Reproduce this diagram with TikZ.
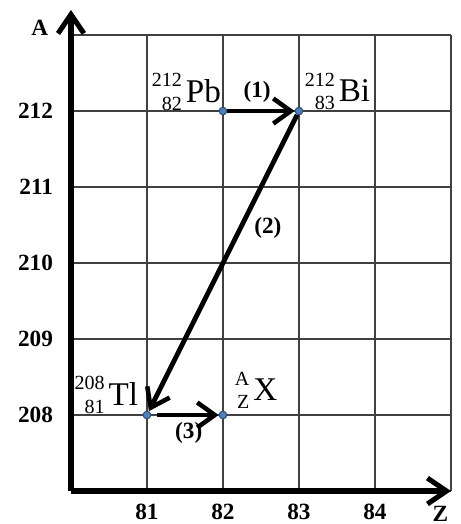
\documentclass[tikz,border=0pt]{standalone}
\usepackage{mathtools}
\usepackage{fontspec}
\setmainfont{Liberation Serif}
\usepackage{tikz}
\usetikzlibrary{arrows.meta}
\DeclareMathSizes{12.4}{12.4}{7.5}{5.5}
\definecolor{dotblue}{HTML}{4F81BD}
\definecolor{dotedge}{HTML}{2F4F7A}
\tikzset{
  gridline/.style={draw=black!75, line width=0.5pt},
  axisarrow/.style={-{Straight Barb[length=2.5mm, width=3.4mm, line width=1.9pt]}, line width=2.2pt},
  decayarrow/.style={-{Straight Barb[length=2.3mm, width=3.3mm, line width=1.7pt]}, line width=1.8pt},
  nucdot/.style={circle, fill=dotblue, draw=dotedge, line width=0.4pt, inner sep=0pt, minimum size=1mm},
  ticklabel/.style={font=\fontsize{8.7}{10}\selectfont\bfseries, inner sep=0pt},
  steplabel/.style={font=\fontsize{8.7}{10}\selectfont\bfseries, inner sep=0pt},
  nuclabel/.style={font=\fontsize{12.4}{14}\selectfont, inner sep=0pt}
}
\newcommand{\nuc}[3]{$\prescript{\text{#1}}{\text{#2}}{\mkern1.5mu\text{#3}}$}

\begin{document}
\begin{tikzpicture}
\useasboundingbox (-0.934,-0.434) rectangle (5.132,6.461);

% Grid
\draw[gridline] (0,0) grid (5,6);

% Axes
\coordinate (O) at (0,0);
\coordinate (ztip) at (5,0);
\coordinate (atip) at (0,6.33);
\draw[axisarrow] (O) -- (ztip);
\draw[axisarrow] (O) -- (atip);
\node[ticklabel] (alab) at (-0.41,6.1) {A};
\node[ticklabel] (zlab) at (4.86,-0.30) {Z};

% Tick labels
\foreach \a [count=\i] in {208,209,210,211,212}
  \node[ticklabel, anchor=east] (a\a) at (-0.23,\i) {\a};
\foreach \z [count=\i] in {81,82,83,84}
  \node[ticklabel] (z\z) at (\i,-0.28) {\z};

% Nuclides
\node[nucdot] (pb) at (2,5) {};
\node[nucdot] (bi) at (3,5) {};
\node[nucdot] (tl) at (1,1) {};
\node[nucdot] (x)  at (2,1) {};
\node[nuclabel, anchor=base east] (pblab) at (1.98,5.11) {\nuc{212}{82}{Pb}};
\node[nuclabel, anchor=base west] (bilab) at (3.07,5.12) {\nuc{212}{83}{Bi}};
\node[nuclabel, anchor=base east] (tllab) at (0.89,1.12) {\nuc{208}{81}{Tl}};
\node[nuclabel, anchor=base west] (xlab)  at (2.15,1.19) {\nuc{A}{Z}{X}};

% Decays
\draw[decayarrow] (pb) -- (bi);
\draw[decayarrow] (bi) -- (tl);
\draw[decayarrow, shorten <=0.08cm] (tl) -- (x);
\node[steplabel] (s1) at (2.45,5.25) {(1)};
\node[steplabel] (s2) at (2.59,3.46) {(2)};
\node[steplabel] (s3) at (1.55,0.76) {(3)};

\end{tikzpicture}
\end{document}
